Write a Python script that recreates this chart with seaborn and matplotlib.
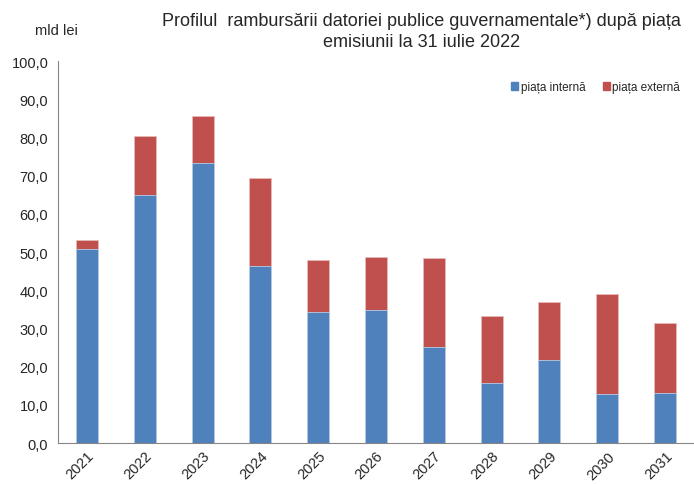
import numpy as np
import pandas as pd
import seaborn as sns
import matplotlib
matplotlib.use("Agg")
from matplotlib import pyplot as plt
from matplotlib.patches import Patch

years = ["2021", "2022", "2023", "2024", "2025", "2026", "2027", "2028", "2029", "2030", "2031"]
intern = [50.8, 64.9, 73.3, 46.3, 34.2, 34.7, 25.2, 15.8, 21.8, 12.8, 13.2]
extern = [2.4, 15.5, 12.4, 23.1, 13.6, 14.1, 23.2, 17.5, 15.2, 26.3, 18.3]

df = pd.DataFrame({"an": years, "intern": intern, "extern": extern})
df["total"] = df["intern"] + df["extern"]

sns.set_style("white")
plt.rcParams['font.family'] = ['Liberation Sans', 'DejaVu Sans']

blue = "#4F81BD"
red = "#C0504D"

fig = plt.figure(figsize=(6.94, 4.85), dpi=100)
ax = fig.add_axes([0.0836, 0.0845, 0.9164, 0.7875])

# stacked: total (red) first, interior (blue) over it
sns.barplot(data=df, x="an", y="total", color=red, width=0.38, saturation=1,
            edgecolor="#E6B9B8", linewidth=0.6, ax=ax)
sns.barplot(data=df, x="an", y="intern", color=blue, width=0.38, saturation=1,
            edgecolor="#B9CDE5", linewidth=0.6, ax=ax)

ax.set_ylim(0, 100)
ax.set_xlim(-0.5, 10.47)
ax.set_yticks(np.arange(0, 101, 10))
ax.set_yticklabels([f"{v:.1f}".replace(".", ",") for v in np.arange(0, 101, 10)], fontsize=10.5)

# category ticks between bars, labels under bars
ax.set_xticks(np.arange(-0.5, 11, 1))
ax.set_xticklabels([])
ax.set_xticks(np.arange(11), minor=True)
ax.set_xticklabels(years, minor=True, rotation=45, ha="right", rotation_mode="anchor", fontsize=10.5)
ax.tick_params(axis="x", which="minor", length=0, pad=4)
ax.tick_params(axis="x", which="major", length=5, direction="out", color="#868686", width=0.8)
ax.tick_params(axis="y", length=5, direction="out", color="#868686", width=0.8, pad=2)
ax.set_xlabel("")
ax.set_ylabel("")

for s in ["top", "right"]:
    ax.spines[s].set_visible(False)
for s in ["left", "bottom"]:
    ax.spines[s].set_color("#868686")
    ax.spines[s].set_linewidth(0.8)

fig.text(0.607, 0.934, "Profilul  rambursării datoriei publice guvernamentale*) după piața\nemisiunii la 31 iulie 2022",
         ha="center", va="center", fontsize=13, linespacing=1.3)
fig.text(0.05, 0.936, "mld lei", ha="left", va="center", fontsize=10.5)

handles = [Patch(color=blue, label="piața internă"), Patch(color=red, label="piața externă")]
ax.legend(handles=handles, loc="upper right", bbox_to_anchor=(0.995, 0.975), ncol=2, frameon=False,
          fontsize=8.5, handlelength=0.6, handleheight=0.6, handletextpad=0.2, columnspacing=1.5)

fig.savefig("out.png", dpi=100)
